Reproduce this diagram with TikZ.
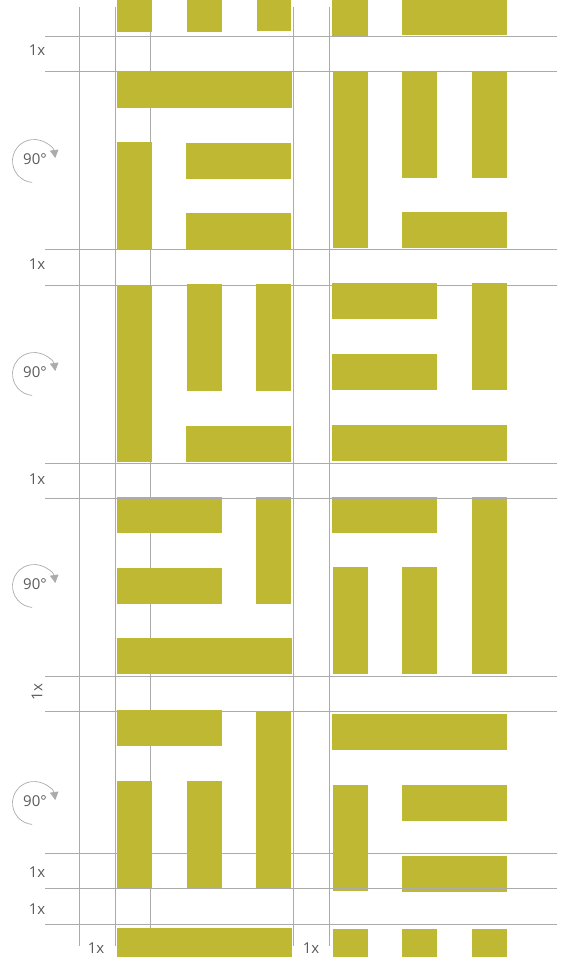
\documentclass[tikz,border=0pt]{standalone}
\usepackage{fontspec}
\setmainfont{Open Sans}
\usetikzlibrary{arrows.meta}
\definecolor{barcol}{HTML}{BFB832}
\definecolor{gridcol}{HTML}{ABABAB}
\definecolor{txtcol}{HTML}{5A5A5A}
\tikzset{
  bar/.style={fill=barcol},
  gridline/.style={draw=gridcol,line width=1pt},
  lbl/.style={text=txtcol,font=\fontsize{15}{15}\selectfont,inner sep=0pt},
  rotarc/.style={draw=gridcol,line width=0.7pt,-{Triangle[width=8.5pt,length=8pt]}},
}
\begin{document}
\begin{tikzpicture}[x=1pt,y=-1pt]
\useasboundingbox (0,0) rectangle (566,957);
% vertical grid lines (behind)
\foreach \x/\b in {79/946,115/946,150/930,293/946,329/946}
  \draw[gridline] (\x,7) -- (\x,\b);
% bars: top partial band
\fill[bar] (117,0) rectangle (152,32);
\fill[bar] (187,0) rectangle (222,32);
\fill[bar] (257,0) rectangle (291,31);
\fill[bar] (332,0) rectangle (368,36);
\fill[bar] (402,0) rectangle (507,35);
% band 1
\fill[bar] (117,72) rectangle (292,108);
\fill[bar] (117,142) rectangle (152,249);
\fill[bar] (186,143) rectangle (291,179);
\fill[bar] (186,213) rectangle (291,249);
\fill[bar] (333,71) rectangle (368,248);
\fill[bar] (402,71) rectangle (437,178);
\fill[bar] (472,71) rectangle (507,178);
\fill[bar] (402,212) rectangle (507,248);
% band 2
\fill[bar] (117,285) rectangle (152,462);
\fill[bar] (187,284) rectangle (222,391);
\fill[bar] (256,284) rectangle (291,391);
\fill[bar] (186,426) rectangle (291,462);
\fill[bar] (332,283) rectangle (437,319);
\fill[bar] (332,354) rectangle (437,390);
\fill[bar] (472,283) rectangle (507,390);
\fill[bar] (332,425) rectangle (507,461);
% band 3
\fill[bar] (117,497) rectangle (222,533);
\fill[bar] (256,497) rectangle (291,604);
\fill[bar] (117,568) rectangle (222,604);
\fill[bar] (117,638) rectangle (292,674);
\fill[bar] (332,497) rectangle (437,533);
\fill[bar] (472,497) rectangle (507,674);
\fill[bar] (333,567) rectangle (368,674);
\fill[bar] (402,567) rectangle (437,674);
% band 4
\fill[bar] (117,710) rectangle (222,746);
\fill[bar] (256,711) rectangle (291,888);
\fill[bar] (117,781) rectangle (152,888);
\fill[bar] (187,781) rectangle (222,888);
\fill[bar] (332,714) rectangle (507,750);
\fill[bar] (333,785) rectangle (368,891);
\fill[bar] (402,785) rectangle (507,821);
\fill[bar] (402,856) rectangle (507,892);
% bottom partial band
\fill[bar] (117,928) rectangle (292,957);
\fill[bar] (333,929) rectangle (368,957);
\fill[bar] (402,929) rectangle (437,957);
\fill[bar] (472,929) rectangle (507,957);
% horizontal grid lines (on top)
\foreach \y in {37,72,250,285,463,498,676,711,853,888,924}
  \draw[gridline] (45,\y) -- (557,\y);
% labels
\node[lbl] (l1) at (37,50) {1x};
\node[lbl] (l2) at (37,264) {1x};
\node[lbl] (l3) at (37,479) {1x};
\node[lbl,rotate=90] (l4) at (37,692) {1x};
\node[lbl] (l5) at (37,872) {1x};
\node[lbl] (l6) at (37,909) {1x};
\node[lbl] (l7) at (96,948) {1x};
\node[lbl] (l8) at (311,948) {1x};
% rotation icons
\foreach \cy/\nm in {159/ra,372/rb,584/rc,801/rd}{
  \draw[rotarc] (34,\cy+2) ++(95:21.5) arc[start angle=95,end angle=352,radius=21.5];
  \node[lbl] (\nm) at (35,\cy) {90°};
}
\end{tikzpicture}
\end{document}
